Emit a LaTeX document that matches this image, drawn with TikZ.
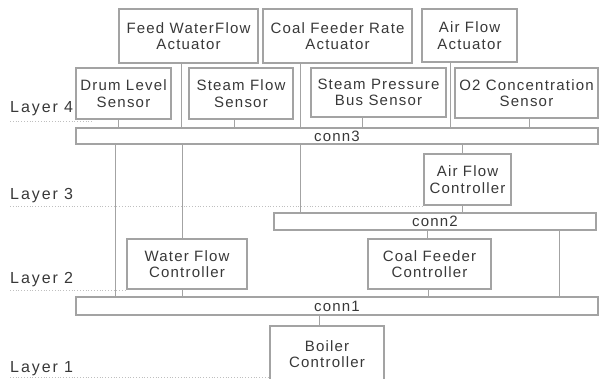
\documentclass[tikz,border=0pt]{standalone}
\usepackage{fontspec}
\setmainfont{Liberation Sans}
\usetikzlibrary{positioning, calc}
\definecolor{boxgray}{HTML}{A3A3A3}
\definecolor{txtgray}{HTML}{383838}

\begin{document}
\begin{tikzpicture}[x=1pt, y=-1pt,
    unit/.style={draw=boxgray, line width=1.1pt, text=txtgray, align=center, inner sep=0pt,
        font=\fontsize{15}{16.5}\selectfont\addfontfeature{LetterSpace=8}},
    bus/.style={unit, minimum height=16pt},
    wire/.style={draw=boxgray, line width=1pt},
    layerline/.style={draw=boxgray!70, dotted, line width=0.8pt},
    layer/.style={anchor=west, text=txtgray, inner sep=0pt,
        font=\fontsize{16}{18}\selectfont\addfontfeature{LetterSpace=12}}]
    \useasboundingbox (0,0) rectangle (599,378);

    % Layer labels
    \node[layer] (l4) at (10,108.5) {Layer 4};
    \node[layer] (l3) at (10,196) {Layer 3};
    \node[layer] (l2) at (10,279.5) {Layer 2};
    \node[layer] (l1) at (10,368.5) {Layer 1};
    \draw[layerline] (10,121) -- (92,121);
    \draw[layerline] (10,206) -- (422,206);
    \draw[layerline] (10,290) -- (125,290);
    \draw[layerline] (10,377) -- (270,377);

    % Actuators
    \node[unit, minimum width=139pt, minimum height=54pt] (fwa) at (188.5,36) {Feed WaterFlow\\Actuator};
    \node[unit, minimum width=149pt, minimum height=54pt] (cfa) at (337.5,36) {Coal Feeder Rate\\Actuator};
    \node[unit, minimum width=95pt, minimum height=53pt] (afa) at (469.5,35.5) {Air Flow\\Actuator};

    % Sensors
    \node[unit, minimum width=95pt, minimum height=51pt] (dls) at (123.5,93.5) {Drum Level\\Sensor};
    \node[unit, minimum width=104pt, minimum height=51pt] (sfs) at (241,93.5) {Steam Flow\\Sensor};
    \node[unit, minimum width=135pt, minimum height=49pt] (spbs) at (378.5,92.5) {Steam Pressure\\Bus Sensor};
    \node[unit, minimum width=143pt, minimum height=50pt] (o2s) at (526.5,93) {O2 Concentration\\Sensor};

    % Connectors
    \node[bus, minimum width=522pt] (conn3) at (337,136) {conn3};
    \node[bus, minimum width=322pt, minimum height=17pt] (conn2) at (435,221.5) {conn2};
    \node[bus, minimum width=522pt, minimum height=18pt] (conn1) at (337,306) {conn1};

    % Controllers
    \node[unit, minimum width=87pt, minimum height=51pt] (afc) at (467.5,179.5) {Air Flow\\Controller};
    \node[unit, minimum width=120pt, minimum height=50pt] (wfc) at (187,264) {Water Flow\\Controller};
    \node[unit, minimum width=123pt, minimum height=50pt] (cfc) at (429.5,264) {Coal Feeder\\Controller};
    \node[unit, minimum width=114pt, minimum height=56pt] (boiler) at (327,354) {Boiler\\Controller};

    % Layer 4 to conn3
    \draw[wire] ([xshift=-5.5pt]dls.south) -- ([xshift=-5.5pt]dls.south |- conn3.north);
    \draw[wire] ([xshift=-7.5pt]fwa.south) -- ([xshift=-7.5pt]fwa.south |- conn3.north);
    \draw[wire] ([xshift=-7pt]sfs.south) -- ([xshift=-7pt]sfs.south |- conn3.north);
    \draw[wire] ([xshift=-37.5pt]cfa.south) -- ([xshift=-37.5pt]cfa.south |- conn3.north);
    \draw[wire] ([xshift=-16.5pt]spbs.south) -- ([xshift=-16.5pt]spbs.south |- conn3.north);
    \draw[wire] ([xshift=-19.5pt]afa.south) -- ([xshift=-19.5pt]afa.south |- conn3.north);
    \draw[wire] ([xshift=2.5pt]o2s.south) -- ([xshift=2.5pt]o2s.south |- conn3.north);

    % conn3 downwards
    \draw[wire] ([xshift=-222pt]conn3.south) -- ([xshift=-222pt]conn3.south |- conn1.north);
    \draw[wire] ([xshift=-5pt]wfc.north |- conn3.south) -- ([xshift=-5pt]wfc.north);
    \draw[wire] ([xshift=-37pt]conn3.south) -- ([xshift=-37pt]conn3.south |- conn2.north);
    \draw[wire] ([xshift=-5.5pt]afc.north |- conn3.south) -- ([xshift=-5.5pt]afc.north);

    % Layer 3 and 2
    \draw[wire] ([xshift=-5.5pt]afc.south) -- ([xshift=-5.5pt]afc.south |- conn2.north);
    \draw[wire] ([xshift=-2.5pt]cfc.north |- conn2.south) -- ([xshift=-2.5pt]cfc.north);
    \draw[wire] ([xshift=124pt]conn2.south) -- ([xshift=124pt]conn2.south |- conn1.north);
    \draw[wire] ([xshift=-5pt]wfc.south) -- ([xshift=-5pt]wfc.south |- conn1.north);
    \draw[wire] ([xshift=-1.5pt]cfc.south) -- ([xshift=-1.5pt]cfc.south |- conn1.north);

    % conn1 to Boiler
    \draw[wire] ([xshift=-8pt]boiler.north |- conn1.south) -- ([xshift=-8pt]boiler.north);
\end{tikzpicture}
\end{document}
